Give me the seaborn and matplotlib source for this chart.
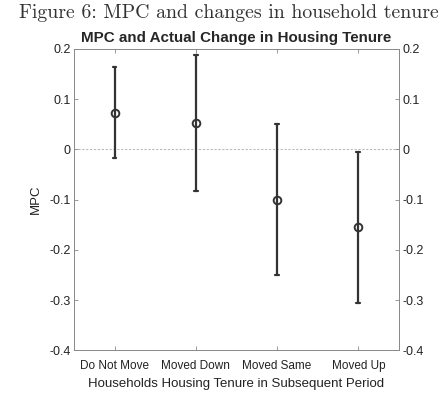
import numpy as np
import pandas as pd
import seaborn as sns
import matplotlib.pyplot as plt

categories = ['Do Not Move', 'Moved Down', 'Moved Same', 'Moved Up']
mpc = [0.073, 0.052, -0.101, -0.155]
ci_low = [-0.017, -0.082, -0.251, -0.305]
ci_high = [0.164, 0.188, 0.050, -0.005]

# long form: lower / point / upper per category, drawn with median + full range
df = pd.DataFrame({
	'tenure': np.repeat(categories, 3),
	'value': np.ravel(np.column_stack([ci_low, mpc, ci_high])),
})

sns.set_style('white')
plt.rcParams['font.family'] = ['Liberation Sans', 'DejaVu Sans']

fig = plt.figure(figsize=(4.47, 3.98), dpi=100)
ax = fig.add_axes([0.1655, 0.12, 0.727, 0.757])

ax.axhline(0, color='#bbbbbb', lw=0.8, ls=(0, (2, 1.5)), zorder=0)

sns.pointplot(data=df, x='tenure', y='value', order=categories,
			  estimator='median', errorbar=('pi', 100), capsize=0.045,
			  color='#333333', linestyle='none', marker='o',
			  markersize=5.5, markerfacecolor='none', markeredgewidth=1.4,
			  err_kws={'linewidth': 1.6}, ax=ax)

ax.set_xlim(-0.5, 3.5)
ax.set_ylim(-0.4, 0.2)
ax.set_yticks([0.2, 0.1, 0, -0.1, -0.2, -0.3, -0.4])
ax.set_yticklabels(['0.2', '0.1', '0', '-0.1', '-0.2', '-0.3', '-0.4'])

ax.tick_params(axis='both', direction='in', length=3, width=0.6, color='#888888',
			   labelsize=9, labelcolor='#222222')
ax.tick_params(axis='y', right=True, labelright=True, left=True, pad=2.5)
ax.tick_params(axis='x', bottom=True, top=True, pad=7, labelsize=8.5)
for sp in ax.spines.values():
	sp.set_color('#888888')
	sp.set_linewidth(0.7)

ax.set_xlabel('Households Housing Tenure in Subsequent Period', fontsize=9.5, color='#222222', labelpad=4)
ax.set_ylabel('MPC', fontsize=9.5, color='#222222', labelpad=5)
ax.set_title('MPC and Actual Change in Housing Tenure', fontsize=10.9, fontweight='bold', pad=5)

fig.text(0.512, 0.99, 'Figure 6: MPC and changes in household tenure', ha='center', va='top',
		 fontsize=14.3, family='cmr10', color='#333333')

fig.savefig('out.png', dpi=100)
